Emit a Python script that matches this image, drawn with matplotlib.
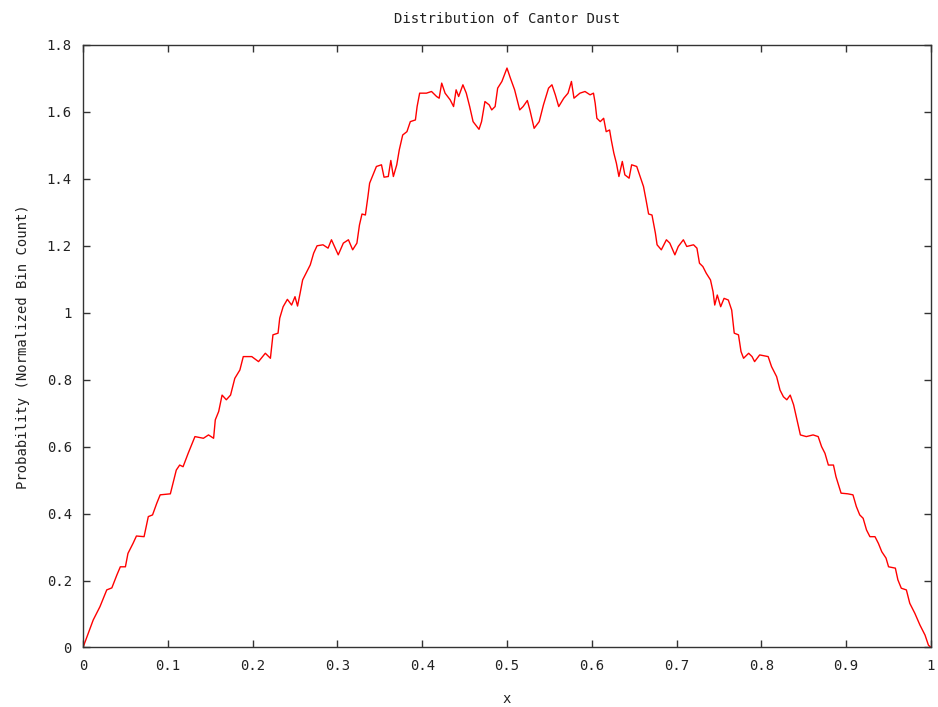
import matplotlib
matplotlib.use("Agg")
import matplotlib.pyplot as plt
from matplotlib.ticker import FuncFormatter

x_vals = [
    0.000, 0.012, 0.020, 0.028, 0.034, 0.040, 0.044, 0.050, 0.053, 0.059, 0.063, 0.072,
    0.077, 0.082, 0.087, 0.091, 0.103, 0.110, 0.114, 0.118, 0.124, 0.132, 0.142, 0.148,
    0.154, 0.156, 0.160, 0.164, 0.169, 0.174, 0.179, 0.185, 0.189, 0.199, 0.207, 0.215,
    0.221, 0.224, 0.230, 0.232, 0.236, 0.241, 0.246, 0.250, 0.253, 0.256, 0.259, 0.263,
    0.268, 0.272, 0.276, 0.283, 0.289, 0.293, 0.301, 0.307, 0.313, 0.318, 0.323, 0.326,
    0.329, 0.333, 0.336, 0.338, 0.342, 0.346, 0.352, 0.355, 0.360, 0.363, 0.366, 0.370,
    0.373, 0.377, 0.382, 0.386, 0.392, 0.394, 0.397, 0.405, 0.411, 0.417, 0.420, 0.423,
    0.427, 0.433, 0.437, 0.440, 0.443, 0.448, 0.452, 0.456, 0.460, 0.467, 0.470, 0.474,
    0.479, 0.482, 0.486, 0.489, 0.494, 0.500, 0.504, 0.509, 0.515, 0.519, 0.524, 0.527,
    0.532, 0.538, 0.543, 0.549, 0.553, 0.557, 0.561, 0.567, 0.572, 0.576, 0.579, 0.586,
    0.592, 0.598, 0.602, 0.604, 0.606, 0.610, 0.614, 0.617, 0.621, 0.623, 0.626, 0.629,
    0.632, 0.636, 0.639, 0.644, 0.647, 0.653, 0.657, 0.661, 0.664, 0.667, 0.671, 0.675,
    0.677, 0.682, 0.688, 0.692, 0.698, 0.702, 0.708, 0.712, 0.720, 0.724, 0.727, 0.731,
    0.735, 0.740, 0.743, 0.745, 0.748, 0.752, 0.756, 0.761, 0.765, 0.768, 0.773, 0.776,
    0.779, 0.785, 0.789, 0.792, 0.798, 0.808, 0.812, 0.818, 0.822, 0.826, 0.830, 0.834,
    0.838, 0.842, 0.846, 0.853, 0.861, 0.867, 0.871, 0.875, 0.879, 0.885, 0.888, 0.891,
    0.894, 0.902, 0.908, 0.912, 0.916, 0.920, 0.924, 0.928, 0.934, 0.938, 0.942, 0.947,
    0.950, 0.958, 0.961, 0.965, 0.971, 0.975, 0.981, 0.987, 0.993, 0.997, 1.000,
]

prob_vals = [
    0.000, 0.082, 0.122, 0.172, 0.178, 0.217, 0.241, 0.241, 0.281, 0.311, 0.333, 0.331,
    0.391, 0.396, 0.431, 0.456, 0.459, 0.530, 0.545, 0.540, 0.580, 0.630, 0.625, 0.635,
    0.625, 0.680, 0.705, 0.754, 0.740, 0.754, 0.804, 0.829, 0.869, 0.869, 0.854, 0.879,
    0.864, 0.934, 0.939, 0.984, 1.018, 1.040, 1.023, 1.048, 1.020, 1.058, 1.098, 1.118,
    1.143, 1.178, 1.200, 1.203, 1.193, 1.218, 1.173, 1.208, 1.218, 1.188, 1.208, 1.262,
    1.295, 1.292, 1.347, 1.387, 1.412, 1.437, 1.442, 1.405, 1.407, 1.455, 1.407, 1.442,
    1.487, 1.531, 1.541, 1.571, 1.576, 1.616, 1.656, 1.656, 1.661, 1.646, 1.641, 1.686,
    1.656, 1.636, 1.616, 1.666, 1.646, 1.681, 1.656, 1.616, 1.571, 1.548, 1.571, 1.631,
    1.621, 1.606, 1.616, 1.671, 1.691, 1.731, 1.701, 1.666, 1.606, 1.616, 1.634, 1.606,
    1.551, 1.571, 1.621, 1.671, 1.681, 1.651, 1.616, 1.641, 1.656, 1.691, 1.641, 1.656,
    1.661, 1.651, 1.656, 1.626, 1.581, 1.571, 1.581, 1.541, 1.546, 1.516, 1.477, 1.447,
    1.407, 1.452, 1.412, 1.402, 1.442, 1.437, 1.407, 1.377, 1.337, 1.295, 1.292, 1.238,
    1.203, 1.188, 1.218, 1.208, 1.173, 1.198, 1.218, 1.198, 1.203, 1.193, 1.148, 1.138,
    1.118, 1.098, 1.063, 1.023, 1.053, 1.018, 1.043, 1.038, 1.008, 0.939, 0.934, 0.884,
    0.864, 0.879, 0.869, 0.854, 0.874, 0.869, 0.839, 0.809, 0.769, 0.749, 0.740, 0.754,
    0.725, 0.680, 0.635, 0.630, 0.635, 0.630, 0.600, 0.580, 0.545, 0.545, 0.510, 0.486,
    0.461, 0.459, 0.456, 0.421, 0.396, 0.386, 0.351, 0.331, 0.331, 0.311, 0.286, 0.267,
    0.241, 0.237, 0.202, 0.177, 0.172, 0.132, 0.102, 0.067, 0.037, 0.007, 0.000,
]

x_ticks = [0, 0.1, 0.2, 0.3, 0.4, 0.5, 0.6, 0.7, 0.8, 0.9, 1.0]
y_ticks = [0, 0.2, 0.4, 0.6, 0.8, 1.0, 1.2, 1.4, 1.6, 1.8]

plt.rcParams['font.family'] = ['DejaVu Sans Mono', 'DejaVu Sans']

fig = plt.figure(figsize=(9.38, 7.07), dpi=100)
ax = fig.add_axes([0.0885, 0.0842, 0.904, 0.8522])

ax.plot(x_vals, prob_vals, color='#ff0000', linewidth=1.0)

ax.set_xlim(0, 1)
ax.set_ylim(0, 1.8)
ax.set_xticks(x_ticks)
ax.set_yticks(y_ticks)

fmt = FuncFormatter(lambda v, p: ('%g' % round(v, 4)))
ax.xaxis.set_major_formatter(fmt)
ax.yaxis.set_major_formatter(fmt)

ax.tick_params(direction='in', length=5, width=1, color='#333333',
               top=True, right=True, labelsize=10, pad=8, labelcolor='#222222')
for s in ax.spines.values():
    s.set_color('#333333')
    s.set_linewidth(1.0)

ax.set_title('Distribution of Cantor Dust', fontsize=10, pad=16, color='#222222')
ax.set_xlabel('x', fontsize=10, labelpad=14, color='#222222')
ax.set_ylabel('Probability (Normalized Bin Count)', fontsize=10, labelpad=12, color='#222222')

fig.savefig('out.png', dpi=100)
